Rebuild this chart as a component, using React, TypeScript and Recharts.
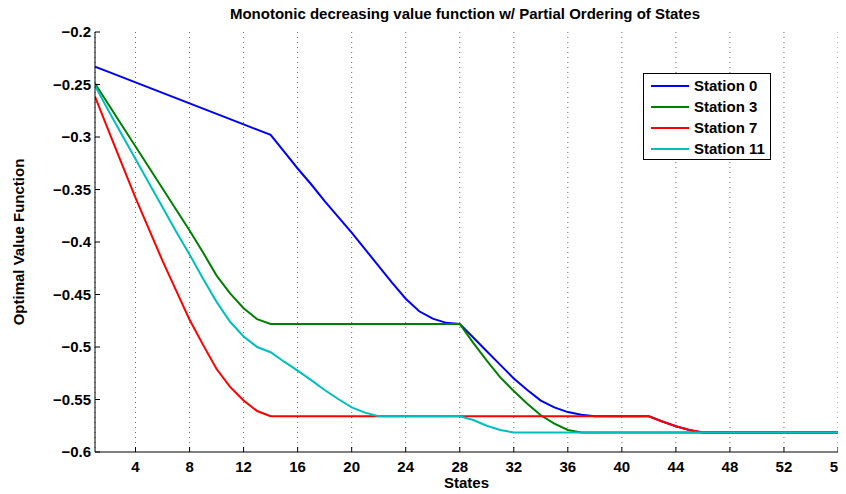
import { LineChart, Line, XAxis, YAxis, CartesianGrid, Legend } from "recharts";

const FONT = '"Liberation Sans", Arial, Helvetica, sans-serif';

const states = [
  1, 2, 3, 4, 5, 6, 7, 8, 9, 10, 11, 12, 13, 14, 15, 16, 17, 18, 19, 20, 21, 22, 23, 24, 25, 26, 27, 28,
  29, 30, 31, 32, 33, 34, 35, 36, 37, 38, 39, 40, 41, 42, 43, 44, 45, 46, 47, 48, 49, 50, 51, 52, 53, 54, 55, 56,
];

const station0 = [
  -0.233, -0.238, -0.243, -0.248, -0.253, -0.258, -0.263, -0.268, -0.273, -0.278, -0.283, -0.288, -0.293, -0.298,
  -0.314, -0.33, -0.345, -0.361, -0.376, -0.391, -0.407, -0.423, -0.439, -0.454, -0.466, -0.473, -0.477, -0.478,
  -0.491, -0.504, -0.517, -0.53, -0.541, -0.551, -0.5575, -0.562, -0.5645, -0.566, -0.566, -0.566, -0.566, -0.566,
  -0.571, -0.5755, -0.579, -0.5815, -0.5815, -0.5815, -0.5815, -0.5815, -0.5815, -0.5815, -0.5815, -0.5815, -0.5815, -0.5815,
];

const station3 = [
  -0.249, -0.269, -0.289, -0.309, -0.329, -0.349, -0.369, -0.389, -0.41, -0.432, -0.449, -0.463, -0.4735, -0.478,
  -0.478, -0.478, -0.478, -0.478, -0.478, -0.478, -0.478, -0.478, -0.478, -0.478, -0.478, -0.478, -0.478, -0.478,
  -0.496, -0.513, -0.529, -0.542, -0.554, -0.565, -0.573, -0.579, -0.5815, -0.5815, -0.5815, -0.5815, -0.5815, -0.5815,
  -0.5815, -0.5815, -0.5815, -0.5815, -0.5815, -0.5815, -0.5815, -0.5815, -0.5815, -0.5815, -0.5815, -0.5815, -0.5815, -0.5815,
];

const station7 = [
  -0.2615, -0.294, -0.326, -0.358, -0.388, -0.418, -0.446, -0.474, -0.498, -0.521, -0.538, -0.551, -0.561, -0.566,
  -0.566, -0.566, -0.566, -0.566, -0.566, -0.566, -0.566, -0.566, -0.566, -0.566, -0.566, -0.566, -0.566, -0.566,
  -0.566, -0.566, -0.566, -0.566, -0.566, -0.566, -0.566, -0.566, -0.566, -0.566, -0.566, -0.566, -0.566, -0.566,
  -0.571, -0.5755, -0.579, -0.5815, -0.5815, -0.5815, -0.5815, -0.5815, -0.5815, -0.5815, -0.5815, -0.5815, -0.5815, -0.5815,
];

const station11 = [
  -0.251, -0.275, -0.298, -0.321, -0.344, -0.367, -0.39, -0.412, -0.435, -0.457, -0.476, -0.49, -0.5, -0.505,
  -0.514, -0.5225, -0.5315, -0.541, -0.5495, -0.5575, -0.5625, -0.566, -0.566, -0.566, -0.566, -0.566, -0.566, -0.566,
  -0.5695, -0.575, -0.579, -0.5815, -0.5815, -0.5815, -0.5815, -0.5815, -0.5815, -0.5815, -0.5815, -0.5815, -0.5815, -0.5815,
  -0.5815, -0.5815, -0.5815, -0.5815, -0.5815, -0.5815, -0.5815, -0.5815, -0.5815, -0.5815, -0.5815, -0.5815, -0.5815, -0.5815,
];

const xTicks = [4, 8, 12, 16, 20, 24, 28, 32, 36, 40, 44, 48, 52, 56];
const yTicks = [-0.6, -0.55, -0.5, -0.45, -0.4, -0.35, -0.3, -0.25, -0.2];

const series = [
  { key: "s0", name: "Station 0", color: "#0000ff" },
  { key: "s3", name: "Station 3", color: "#008000" },
  { key: "s7", name: "Station 7", color: "#ff0000" },
  { key: "s11", name: "Station 11", color: "#00bfbf" },
];

const data = states.map((s, i) => ({
  state: s,
  s0: station0[i],
  s3: station3[i],
  s7: station7[i],
  s11: station11[i],
}));

const fmtY = (v: number) => String(Number(v.toFixed(2))).replace("-", "\u2212");

// bold 15px labels, like the matlab export
const XTick = (p: any) => (
  <text x={p.x} y={p.y} dy="0.71em" textAnchor="middle" fontFamily={FONT} fontWeight="bold" fontSize={15} fill="#000">
    {p.payload.value}
  </text>
);

const YTick = (p: any) => (
  <text x={p.x} y={p.y} dy="0.355em" textAnchor="end" fontFamily={FONT} fontWeight="bold" fontSize={15} fill="#000">
    {fmtY(p.payload.value)}
  </text>
);

const renderLegend = () => (
  <div
    style={{
      border: "1px solid #000",
      background: "#fff",
      width: 128,
      height: 87,
      boxSizing: "border-box",
      padding: "1px 0",
      fontFamily: FONT,
      fontWeight: "bold",
      fontSize: 15,
      color: "#000",
    }}
  >
    {series.map((s) => (
      <div key={s.key} style={{ display: "flex", alignItems: "center", height: 21, whiteSpace: "nowrap" }}>
        <span style={{ display: "inline-block", width: 38, marginLeft: 7, marginRight: 5, borderTop: `2px solid ${s.color}` }} />
        <span>{s.name}</span>
      </div>
    ))}
  </div>
);

export default function App() {
  return (
    // pull the chart over the body margin so it covers the whole window
    <div style={{ margin: "-8px 0 0 -8px", width: 846, height: 494 }}>
      <style>{`body{overflow:hidden}`}</style>
      <LineChart width={846} height={494} data={data} margin={{ top: 32, right: 8, bottom: 8, left: 0 }}>
        <CartesianGrid horizontal={false} stroke="#666" strokeDasharray="1 4" />
        <XAxis
          dataKey="state"
          type="number"
          domain={[1, 56]}
          ticks={xTicks}
          interval={0}
          allowDataOverflow
          height={34}
          tickSize={-5}
          tickMargin={14}
          axisLine={{ stroke: "#000" }}
          tickLine={{ stroke: "#000" }}
          tick={XTick}
          label={() => (
            <g fontFamily={FONT} fontWeight="bold" fontSize={15} fill="#000">
              <text x={466.5} y={488} textAnchor="middle">
                States
              </text>
              <text x={465} y={19} textAnchor="middle">
                Monotonic decreasing value function w/ Partial Ordering of States
              </text>
            </g>
          )}
        />
        <XAxis
          xAxisId="top"
          orientation="top"
          dataKey="state"
          type="number"
          domain={[1, 56]}
          ticks={xTicks}
          interval={0}
          allowDataOverflow
          height={0}
          tickSize={-5}
          tickFormatter={() => ""}
          axisLine={{ stroke: "#000" }}
          tickLine={{ stroke: "#000" }}
        />
        <YAxis
          type="number"
          domain={[-0.6, -0.2]}
          ticks={yTicks}
          interval={0}
          allowDataOverflow
          width={95}
          tickSize={-5}
          tickMargin={9}
          axisLine={{ stroke: "#000" }}
          tickLine={{ stroke: "#000" }}
          tick={YTick}
          label={() => (
            <text
              x={18}
              y={242}
              transform="rotate(-90 18 242)"
              textAnchor="middle"
              dominantBaseline="central"
              fontFamily={FONT}
              fontWeight="bold"
              fontSize={15}
              fill="#000"
            >
              Optimal Value Function
            </text>
          )}
        />
        <YAxis
          yAxisId="right"
          orientation="right"
          type="number"
          domain={[-0.6, -0.2]}
          ticks={yTicks}
          interval={0}
          allowDataOverflow
          width={0}
          tickSize={-5}
          tickFormatter={() => ""}
          axisLine={{ stroke: "#000" }}
          tickLine={{ stroke: "#000" }}
        />
        <Legend
          layout="vertical"
          align="center"
          verticalAlign="middle"
          content={renderLegend}
          wrapperStyle={{ left: 643, top: 73, width: 128 }}
        />
        {series.map((s) => (
          <Line
            key={s.key}
            dataKey={s.key}
            name={s.name}
            type="linear"
            stroke={s.color}
            strokeWidth={2}
            dot={false}
            activeDot={false}
            isAnimationActive={false}
          />
        ))}
      </LineChart>
    </div>
  );
}
